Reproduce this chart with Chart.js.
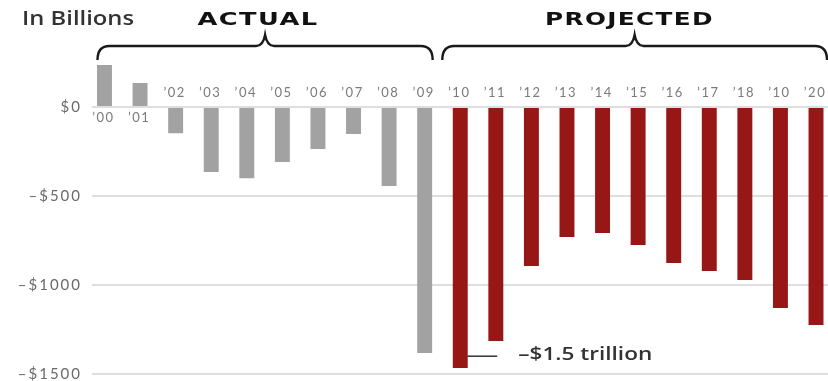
<!DOCTYPE html>
<html>
<head>
<meta charset="utf-8">
<script src="https://cdn.jsdelivr.net/npm/chart.js@4.4.0/dist/chart.umd.min.js"></script>
<style>
  html, body { margin: 0; padding: 0; background: #fff; }
  #wrap { width: 828px; height: 381px; position: relative; }
</style>
</head>
<body>
<div id="wrap"><canvas id="c" width="828" height="381"></canvas></div>
<script>
// ---- data (billions of dollars) ----
const yearLabels = ["’00","’01","’02","’03","’04","’05","’06","’07","’08","’09",
                    "’10","’11","’12","’13","’14","’15","’16","’17","’18","’10","’20"];
const actualValues    = [236, 135, -148, -365, -400, -309, -236, -152, -444, -1382];
const projectedValues = [-1466, -1315, -893, -730, -708, -775, -876, -921, -972, -1129, -1225];
const yTickValues = [0, -500, -1000, -1500];
const groupTitles = ["ACTUAL", "PROJECTED"];
const unitLabel = "In Billions";
const annotationText = "–$1.5 trillion";
const annotationValue = -1400;

const GRAY = "#a2a2a2";
const RED = "#971616";

const actualData = actualValues.map((v, i) => ({ x: i, y: v }));
const projectedData = projectedValues.map((v, i) => ({ x: i + actualValues.length, y: v }));

function fmtY(v) {
  if (v === 0) return "$0";
  return (v < 0 ? "–$" : "$") + Math.abs(v);
}

// draw text stretched horizontally to a target width
function drawFit(ctx, text, x, y, width, font, align, spacing) {
  ctx.save();
  ctx.font = font;
  if ("letterSpacing" in ctx) ctx.letterSpacing = (spacing || 0) + "px";
  const w = ctx.measureText(text).width;
  const s = width / w;
  ctx.textBaseline = "middle";
  ctx.textAlign = "left";
  let left = x;
  if (align === "center") left = x - width / 2;
  else if (align === "right") left = x - width;
  ctx.translate(left, y);
  ctx.scale(s, 1);
  ctx.fillText(text, 0, 0);
  ctx.restore();
}

const spacingOn = {
  id: "spacingOn",
  beforeDraw(chart) { if ("letterSpacing" in chart.ctx) chart.ctx.letterSpacing = "2px"; },
  beforeDatasetsDraw(chart) { if ("letterSpacing" in chart.ctx) chart.ctx.letterSpacing = "0px"; }
};

const decor = {
  id: "decor",
  afterDatasetsDraw(chart) {
    const ctx = chart.ctx;
    const xs = chart.scales.x, ys = chart.scales.y;
    const allVals = actualValues.concat(projectedValues);
    ctx.save();

    // x tick labels
    ctx.font = "13px Lato";
    ctx.fillStyle = "#7a7a7a";
    ctx.textAlign = "center";
    ctx.textBaseline = "middle";
    if ("letterSpacing" in ctx) ctx.letterSpacing = "1.5px";
    yearLabels.forEach((lab, i) => {
      const px = xs.getPixelForValue(i);
      const y0 = ys.getPixelForValue(0);
      const py = allVals[i] >= 0 ? y0 + 11 : y0 - 14;
      ctx.fillText(lab, px - 1, py);
    });
    if ("letterSpacing" in ctx) ctx.letterSpacing = "0px";

    // unit label
    ctx.fillStyle = "#333";
    drawFit(ctx, unitLabel, 22, 20, 112, "600 19px 'Open Sans'", "left", 0);

    // group titles + braces
    const groups = [
      { x1: xs.getPixelForValue(0) - 7, x2: xs.getPixelForValue(actualValues.length - 1) + 8, title: groupTitles[0], tx: 258, tw: 121 },
      { x1: xs.getPixelForValue(actualValues.length) - 18, x2: xs.getPixelForValue(yearLabels.length - 1) + 11, title: groupTitles[1], tx: 629.5, tw: 169 }
    ];
    groups.forEach(g => {
      const mid = (g.x1 + g.x2) / 2;
      ctx.fillStyle = "#111";
      drawFit(ctx, g.title, g.tx, 20.5, g.tw, "bold 18px 'DejaVu Sans'", "center", 1);

      const yh = 46, ye = 60, yp = 35;
      ctx.beginPath();
      ctx.strokeStyle = "#1a1a1a";
      ctx.lineWidth = 2.4;
      ctx.moveTo(g.x1, ye);
      ctx.quadraticCurveTo(g.x1, yh, g.x1 + 12, yh);
      ctx.lineTo(mid - 9, yh);
      ctx.quadraticCurveTo(mid - 2, yh, mid, yp);
      ctx.quadraticCurveTo(mid + 2, yh, mid + 9, yh);
      ctx.lineTo(g.x2 - 12, yh);
      ctx.quadraticCurveTo(g.x2, yh, g.x2, ye);
      ctx.stroke();
    });

    // annotation
    const ax = xs.getPixelForValue(actualValues.length);
    const ay = ys.getPixelForValue(annotationValue);
    ctx.beginPath();
    ctx.strokeStyle = "#333";
    ctx.lineWidth = 1.5;
    ctx.moveTo(ax + 7, ay);
    ctx.lineTo(ax + 37, ay);
    ctx.stroke();
    ctx.fillStyle = "#333";
    drawFit(ctx, annotationText, ax + 58, ay - 1, 134, "600 18px 'Open Sans'", "left", 0);

    ctx.restore();
  }
};

new Chart(document.getElementById("c"), {
  type: "bar",
  data: {
    datasets: [
      { label: "Actual", data: actualData, backgroundColor: GRAY, barPercentage: 0.84, categoryPercentage: 0.5, grouped: false },
      { label: "Projected", data: projectedData, backgroundColor: RED, barPercentage: 0.84, categoryPercentage: 0.5, grouped: false }
    ]
  },
  options: {
    responsive: false,
    animation: false,
    layout: { padding: { left: 0, right: 0, top: 53.6, bottom: 7 } },
    plugins: { legend: { display: false }, tooltip: { enabled: false } },
    scales: {
      x: {
        type: "linear",
        display: false,
        min: -0.351,
        max: 20.337,
        offset: false
      },
      y: {
        min: -1500,
        max: 300,
        border: { display: false },
        grid: { color: "#dedede", lineWidth: 2, drawTicks: false },
        afterBuildTicks(scale) {
          scale.ticks = yTickValues.map(v => ({ value: v }));
        },
        afterFit(scale) {
          scale.width = 92;
          scale.paddingTop = 0;
          scale.paddingBottom = 0;
        },
        ticks: {
          padding: 10,
          color: "#6a6a6a",
          font: { family: "Lato", size: 15 },
          callback: (v) => fmtY(v)
        }
      }
    }
  },
  plugins: [spacingOn, decor]
});
</script>
</body>
</html>
